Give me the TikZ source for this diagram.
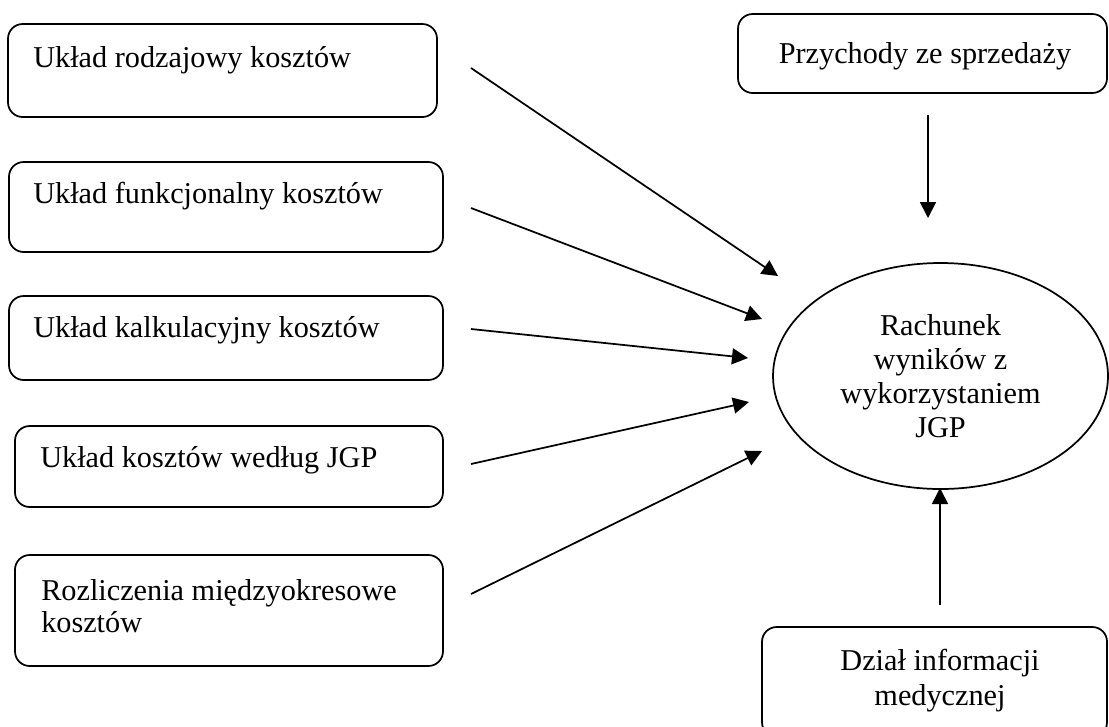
\documentclass[tikz,border=0pt]{standalone}
\usepackage{fontspec}
\setmainfont{Liberation Serif}
\usetikzlibrary{arrows.meta,shapes.geometric}
\tikzset{
  box/.style={draw, line width=1.3pt, rounded corners=11pt, inner sep=0pt},
  txt/.style={inner sep=0pt, font=\fontsize{22.7}{25}\selectfont},
  oval/.style={draw, line width=1.3pt, ellipse, inner sep=0pt, align=center,
    font=\fontsize{22.7}{25.5}\selectfont},
  feed/.style={line width=1.3pt, -{Triangle[length=12pt,width=12pt]}},
}
\begin{document}
\begin{tikzpicture}[x=0.75pt,y=-0.75pt]
\useasboundingbox (0,0) rectangle (1109,726);
\clip (0,0) rectangle (1109,726);

% cost structures on the left
\node[box, minimum width=321.75pt, minimum height=69.75pt] (b1) at (222.5,70.5) {};
\node[box, minimum width=325.5pt, minimum height=67.5pt] (b2) at (226,207) {};
\node[box, minimum width=325.5pt, minimum height=63pt] (b3) at (226,338) {};
\node[box, minimum width=321pt, minimum height=60.75pt] (b4) at (229,466.5) {};
\node[box, minimum width=321pt, minimum height=83.25pt] (b5) at (229,610.5) {};

\node[txt, anchor=base west] (t1) at (33,67) {Układ rodzajowy kosztów};
\node[txt, anchor=base west] (t2) at (33,203) {Układ funkcjonalny kosztów};
\node[txt, anchor=base west] (t3) at (33,337) {Układ kalkulacyjny kosztów};
\node[txt, anchor=base west] (t4) at (40,467) {Układ kosztów według JGP};
\node[txt, anchor=base west] (t5a) at (41,600) {Rozliczenia międzyokresowe};
\node[txt, anchor=base west] (t5b) at (41,632) {kosztów};

% inputs on the right
\node[box, minimum width=276.75pt, minimum height=59.25pt] (rev) at (922.5,53.5) {};
\node[txt, anchor=base] (revt) at (925,63) {Przychody ze sprzedaży};

\node[box, minimum width=258.75pt, minimum height=82.5pt] (med) at (934.5,682) {};
\node[txt, anchor=base] (medt1) at (940,670) {Dział informacji};
\node[txt, anchor=base] (medt2) at (940,705) {medycznej};

% result
\node[oval, minimum width=251.25pt, minimum height=169.5pt] (res) at (940.5,376)
  {Rachunek\\wyników z\\wykorzystaniem\\JGP};

% arrow end points
\coordinate (s1) at (471,68);  \coordinate (e1) at (778,276);
\coordinate (s2) at (471,208); \coordinate (e2) at (762,319);
\coordinate (s3) at (471,329); \coordinate (e3) at (748,358);
\coordinate (s4) at (471,464); \coordinate (e4) at (749,402);
\coordinate (s5) at (471,594); \coordinate (e5) at (762,451);
\coordinate (sr) at (928,115); \coordinate (er) at (928,218);
\coordinate (sm) at (940,605); \coordinate (em) at (940,488);

\draw[feed] (s1) -- (e1);
\draw[feed] (s2) -- (e2);
\draw[feed] (s3) -- (e3);
\draw[feed] (s4) -- (e4);
\draw[feed] (s5) -- (e5);
\draw[feed] (sr) -- (er);
\draw[feed] (sm) -- (em);
\end{tikzpicture}
\end{document}
